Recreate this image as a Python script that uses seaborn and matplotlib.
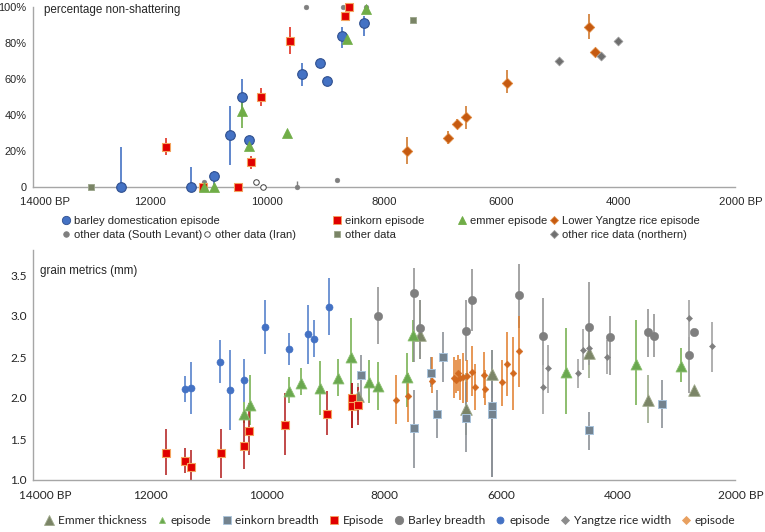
import numpy as np
import pandas as pd
import seaborn as sns
import matplotlib.pyplot as plt
from matplotlib.lines import Line2D
from matplotlib.transforms import ScaledTranslation

nan = np.nan

# ---- top panel: percentage non-shattering ----
barley_bp  = [12500, 11300, 10900, 10630, 10420, 10300, 9400, 9100, 8970, 8710, 8340]
barley_pct = [0, 0, 6, 29, 50, 26, 63, 69, 59, 84, 91]
barley_lo  = [0, 0, 1, 12, 43, nan, 56, nan, nan, 77, 84]
barley_hi  = [22, 11, 9, 45, 60, nan, 69, nan, nan, 89, 95]

einkorn_bp  = [11730, 11100, 10500, 10270, 10100, 9600, 8670, 8590]
einkorn_pct = [22, 0, 0, 14, 50, 81, 95, 100]
einkorn_lo  = [18, nan, nan, 10, 45, 74, nan, nan]
einkorn_hi  = [27, nan, nan, 17, 55, 89, nan, nan]

emmer_bp  = [11080, 10900, 10420, 10300, 9660, 8640, 8300]
emmer_pct = [0, 0, 42, 23, 30, 82, 99]
emmer_lo  = [nan, nan, 33, nan, nan, nan, nan]
emmer_hi  = [nan, nan, 48, nan, nan, nan, nan]

levant_bp  = [11070, 9490, 9330, 8810, 8700, 8620, 8300]
levant_pct = [3, 0, 100, 4, 100, 100, 100]
levant_lo  = [nan, 0, nan, nan, nan, nan, nan]
levant_hi  = [nan, 3.5, nan, nan, nan, nan, nan]

iran_bp  = [10190, 10070]
iran_pct = [3, 0]

other_bp  = [13000, 7500]
other_pct = [0, 93]

rice_bp  = [7600, 6900, 6750, 6600, 5900, 4500, 4400]
rice_pct = [20, 27, 35, 39, 58, 89, 75]
rice_lo  = [13, 24, 32, 32, 52, 82, nan]
rice_hi  = [28, 31, 38, 45, 65, 96, nan]

north_bp  = [5000, 4290, 4000]
north_pct = [70, 73, 81]

# ---- bottom panel: grain metrics (mm) ----
thick_bp = [8440, 7385, 6600, 6150, 4490, 3490, 2700]
thick_mm = [2.02, 2.77, 1.87, 2.29, 2.55, 1.98, 2.10]
thick_lo = [1.73, 2.48, 1.55, 2.00, 2.24, 1.69, nan]
thick_hi = [2.18, 3.20, 2.30, 2.59, 2.87, 2.28, nan]

emepi_bp = [10400, 10290, 9620, 9420, 9090, 8790, 8560, 8250, 8100, 7600, 7500, 4890, 3700, 2920]
emepi_mm = [1.81, 1.91, 2.09, 2.18, 2.12, 2.25, 2.50, 2.19, 2.15, 2.26, 2.77, 2.32, 2.42, 2.39]
emepi_lo = [1.70, 1.67, 1.94, 2.04, 1.79, 2.02, 2.03, 1.94, 1.85, 1.89, 2.44, 1.80, 1.91, 2.19]
emepi_hi = [1.95, 2.28, 2.26, 2.37, 2.45, 2.48, 2.97, 2.46, 2.44, 2.55, 2.95, 2.85, 2.95, 2.61]

bread_bp = [8400, 7490, 7200, 7090, 6990, 6590, 6150, 6150, 4490, 3240]
bread_mm = [2.28, 1.63, 2.30, 1.80, 2.50, 1.76, 1.90, 1.80, 1.61, 1.93]
bread_lo = [2.00, 1.15, 2.14, 1.51, 2.20, 1.34, 1.04, 1.04, 1.37, 1.63]
bread_hi = [2.53, 2.10, 2.50, 2.10, 2.81, 2.20, 2.59, 2.30, 1.83, 2.22]

einepi_bp = [11730, 11400, 11300, 10790, 10400, 10300, 9700, 8970, 8550, 8550, 8440]
einepi_mm = [1.33, 1.235, 1.155, 1.325, 1.42, 1.60, 1.675, 1.81, 2.00, 1.90, 1.915]
einepi_lo = [1.06, 1.08, 0.98, 1.02, 1.14, 1.30, 1.30, 1.55, 1.63, 1.63, 1.67]
einepi_hi = [1.62, 1.39, 1.37, 1.62, 1.83, 1.94, 2.06, 2.08, 2.18, 2.18, 2.14]

bbread_bp = [8100, 7490, 7390, 6590, 6490, 5690, 5290, 4490, 4140, 3490, 3390, 2790, 2700]
bbread_mm = [3.00, 3.28, 2.85, 2.82, 3.20, 3.26, 2.76, 2.87, 2.74, 2.80, 2.76, 2.52, 2.80]
bbread_lo = [2.66, 2.44, 2.48, 2.45, 2.82, 2.85, 2.40, 2.55, 2.28, 2.50, 2.50, 2.06, nan]
bbread_hi = [3.35, 3.59, 3.20, 3.19, 3.57, 3.64, 3.22, 3.41, 3.00, 3.09, 3.02, 2.75, nan]

bepi_bp = [11400, 11300, 10800, 10630, 10390, 10030, 9620, 9300, 9200, 8940]
bepi_mm = [2.11, 2.12, 2.44, 2.10, 2.22, 2.87, 2.60, 2.78, 2.72, 3.11]
bepi_lo = [1.95, 1.80, 2.18, 1.61, 1.95, 2.54, 2.40, 2.42, 2.50, 2.77]
bepi_hi = [2.27, 2.44, 2.71, 2.59, 2.48, 3.20, 2.79, 3.13, 2.95, 3.46]

rwidth_bp = [5290, 5190, 4690, 4590, 4490, 4190, 2790, 2390]
rwidth_mm = [2.13, 2.36, 2.30, 2.59, 2.61, 2.50, 2.97, 2.63]
rwidth_lo = [1.81, 2.06, 2.12, 2.34, 2.40, 2.29, 2.75, 2.32]
rwidth_hi = [2.40, 2.65, 2.48, 2.84, 2.80, 2.71, 3.20, 2.93]

repi_bp = [7800, 7590, 7180, 6800, 6775, 6740, 6700, 6645, 6580, 6490, 6440, 6290, 6280, 5990, 5890, 5790, 5690]
repi_mm = [1.98, 2.02, 2.21, 2.25, 2.22, 2.31, 2.24, 2.26, 2.27, 2.32, 2.14, 2.28, 2.11, 2.19, 2.42, 2.30, 2.57]
repi_lo = [1.68, 1.71, 2.06, 2.00, 2.06, 2.08, 1.98, 1.94, 1.95, 2.02, 1.85, 2.00, 1.91, 1.90, 2.02, 1.85, 2.14]
repi_hi = [2.28, 2.30, 2.50, 2.50, 2.46, 2.52, 2.47, 2.55, 2.46, 2.63, 2.42, 2.56, 2.34, 2.46, 2.81, 2.75, 3.00]

x_ticks = [14000, 12000, 10000, 8000, 6000, 4000, 2000]
x_labels = ["14000 BP", "12000", "10000", "8000", "6000", "4000", "2000 BP"]

sns.set_style("white")
plt.rcParams["font.family"] = ["Liberation Sans", "DejaVu Sans"]

W, H = 765, 532
fig = plt.figure(figsize=(W / 100, H / 100), dpi=100)
ax1 = fig.add_axes([33 / W, 1 - 187 / H, 702 / W, 180 / H])
ax2 = fig.add_axes([33 / W, 1 - 480 / H, 702 / W, 229.6 / H])


def bars(ax, x, lo, hi, color, lw=1.0, alpha=1.0):
    d = pd.DataFrame({"x": x, "lo": lo, "hi": hi}).dropna()
    ax.vlines(d["x"], d["lo"], d["hi"], colors=color, lw=lw, alpha=alpha, zorder=2)


def pts(ax, x, y, marker, s, fc, ec, lw=0.6, z=3):
    sns.scatterplot(x=x, y=y, ax=ax, marker=marker, s=s, color=fc, edgecolor=ec,
                    linewidth=lw, zorder=z, clip_on=False, legend=False)


# top panel
bars(ax1, levant_bp, levant_lo, levant_hi, "#7f7f7f", 1.0)
bars(ax1, barley_bp, barley_lo, barley_hi, "#4472c4", 1.2)
bars(ax1, einkorn_bp, einkorn_lo, einkorn_hi, "#e03020", 1.2)
bars(ax1, emmer_bp, emmer_lo, emmer_hi, "#70ad47", 1.2)
bars(ax1, rice_bp, rice_lo, rice_hi, "#d07a30", 1.2)

pts(ax1, levant_bp, levant_pct, "o", 12, "#7f7f7f", "#7f7f7f", 0.3)
pts(ax1, iran_bp, iran_pct, "o", 16, "white", "#404040", 0.7)
pts(ax1, other_bp, other_pct, "s", 20, "#7a8466", "#9aa58a", 0.6)
pts(ax1, barley_bp, barley_pct, "o", 48, "#4472c4", "#2f4f8f", 0.8, 4)
pts(ax1, einkorn_bp, einkorn_pct, "s", 34, "#e00000", "#f4a460", 0.8, 4)
pts(ax1, emmer_bp, emmer_pct, "^", 52, "#70ad47", "#70ad47", 0.5, 5)
pts(ax1, rice_bp, rice_pct, "D", 28, "#c55a11", "#e08a40", 0.6, 4)
pts(ax1, north_bp, north_pct, "D", 20, "#6f6f6f", "#9a9a9a", 0.6, 4)

# bottom panel
bars(ax2, thick_bp, thick_lo, thick_hi, "#9aa88a", 1.3, 0.9)
bars(ax2, emepi_bp, emepi_lo, emepi_hi, "#70ad47", 1.3, 0.85)
bars(ax2, bread_bp, bread_lo, bread_hi, "#8a8f95", 1.3, 0.9)
bars(ax2, einepi_bp, einepi_lo, einepi_hi, "#b01818", 1.3, 0.85)
bars(ax2, bbread_bp, bbread_lo, bbread_hi, "#8c8c8c", 1.3, 0.85)
bars(ax2, bepi_bp, bepi_lo, bepi_hi, "#4a78c8", 1.3, 0.85)
bars(ax2, rwidth_bp, rwidth_lo, rwidth_hi, "#9a9a9a", 1.3, 0.85)
bars(ax2, repi_bp, repi_lo, repi_hi, "#e07b28", 1.3, 0.85)

pts(ax2, thick_bp, thick_mm, "^", 70, "#7b8567", "#a0aa8c", 0.6)
pts(ax2, emepi_bp, emepi_mm, "^", 62, "#6aa84f", "#8cc070", 0.6)
pts(ax2, bread_bp, bread_mm, "s", 34, "#74838f", "#a9c4dc", 0.7)
pts(ax2, einepi_bp, einepi_mm, "s", 32, "#e00000", "#f4a460", 0.8)
pts(ax2, bbread_bp, bbread_mm, "o", 36, "#7f7f7f", "#7f7f7f", 0.4)
pts(ax2, bepi_bp, bepi_mm, "o", 26, "#4472c4", "#4472c4", 0.4)
pts(ax2, rwidth_bp, rwidth_mm, "D", 10, "#7f7f7f", "#7f7f7f", 0.3)
pts(ax2, repi_bp, repi_mm, "D", 12, "#d2691e", "#d2691e", 0.3)

axis_col = "#a6a6a6"
for ax in (ax1, ax2):
    ax.set_xlim(14000, 2000)
    ax.set_xticks(x_ticks)
    ax.set_xticklabels(x_labels)
    ax.set_xlabel("")
    ax.set_ylabel("")
    for side in ("top", "right"):
        ax.spines[side].set_visible(False)
    for side in ("left", "bottom"):
        ax.spines[side].set_color(axis_col)
        ax.spines[side].set_linewidth(1.0)
    ax.tick_params(axis="x", direction="out", length=4, width=1, color=axis_col, pad=3)
    ax.tick_params(axis="y", direction="out", length=3, width=1, color=axis_col, pad=1.5)
    labs = ax.get_xticklabels()
    labs[0].set_transform(labs[0].get_transform() + ScaledTranslation(0.12, 0, fig.dpi_scale_trans))
    labs[-1].set_transform(labs[-1].get_transform() + ScaledTranslation(0.06, 0, fig.dpi_scale_trans))

ax1.set_ylim(0, 100)
ax1.set_yticks([0, 20, 40, 60, 80, 100])
ax1.set_yticklabels(["0", "20%", "40%", "60%", "80%", "100%"])
ax1.tick_params(axis="x", labelsize=8.2)
ax1.tick_params(axis="y", labelsize=7.9)

ax2.set_ylim(1.0, 3.8)
ax2.set_yticks([1.0, 1.5, 2.0, 2.5, 3.0, 3.5])
ax2.set_yticklabels(["1.0", "1.5", "2.0", "2.5", "3.0", "3.5"])
ax2.tick_params(labelsize=8.6)
for lab in ax2.get_xticklabels() + ax2.get_yticklabels():
    lab.set_fontfamily(["Lato", "DejaVu Sans"])

fig.text(44 / W, 1 - 10 / H, "percentage non-shattering", fontsize=8.4, va="center", ha="left")
fig.text(40 / W, 1 - 271 / H, "grain metrics (mm)", fontsize=8.4, va="center", ha="left")

# top legend, Excel-style free placement
def h(marker, fc, ec, ms):
    return Line2D([], [], ls="none", marker=marker, mfc=fc, mec=ec, ms=ms, mew=0.6)

top_entries = [
    (h("o", "#4472c4", "#2f4f8f", 6), "barley domestication episode", 66, 221),
    (h("s", "#e00000", "#f4a460", 6), "einkorn episode", 337, 221),
    (h("^", "#70ad47", "#70ad47", 6), "emmer episode", 462, 221),
    (h("D", "#c55a11", "#e08a40", 4.5), "Lower Yangtze rice episode", 554, 221),
    (h("o", "#7f7f7f", "#7f7f7f", 4), "other data (South Levant)", 66, 235),
    (h("o", "white", "#404040", 4), "other data (Iran)", 207, 235),
    (h("s", "#7a8466", "#9aa58a", 5), "other data", 337, 235),
    (h("D", "#6f6f6f", "#9a9a9a", 4.5), "other rice data (northern)", 554, 235),
]
for handle, text, mx, my in top_entries:
    fig.legend(handles=[handle], labels=[text], loc="center left",
               bbox_to_anchor=((mx - 4.5) / W, 1 - my / H), frameon=False,
               fontsize=8.1, borderpad=0, borderaxespad=0, handlelength=0.8,
               handletextpad=0.35)

bottom_handles = [
    h("^", "#7b8567", "#a0aa8c", 6.5),
    h("^", "#6aa84f", "#8cc070", 5),
    h("s", "#74838f", "#a9c4dc", 6),
    h("s", "#e00000", "#f4a460", 6),
    h("o", "#7f7f7f", "#7f7f7f", 6),
    h("o", "#4472c4", "#4472c4", 5),
    h("D", "#8c8c8c", "#8c8c8c", 4),
    h("D", "#e8a060", "#e8a060", 4),
]
bottom_labels = ["Emmer thickness", "episode", "einkorn breadth", "Episode",
                 "Barley breadth", "episode", "Yangtze rice width", "episode"]
fig.legend(handles=bottom_handles, labels=bottom_labels, loc="center",
           bbox_to_anchor=(390 / W, 1 - 521 / H), ncol=8, frameon=False,
           prop={"family": ["Lato", "DejaVu Sans"], "size": 8.6},
           borderpad=0, borderaxespad=0, handlelength=0.8, handletextpad=0.35,
           columnspacing=0.85)

fig.savefig("out.png", dpi=100)
